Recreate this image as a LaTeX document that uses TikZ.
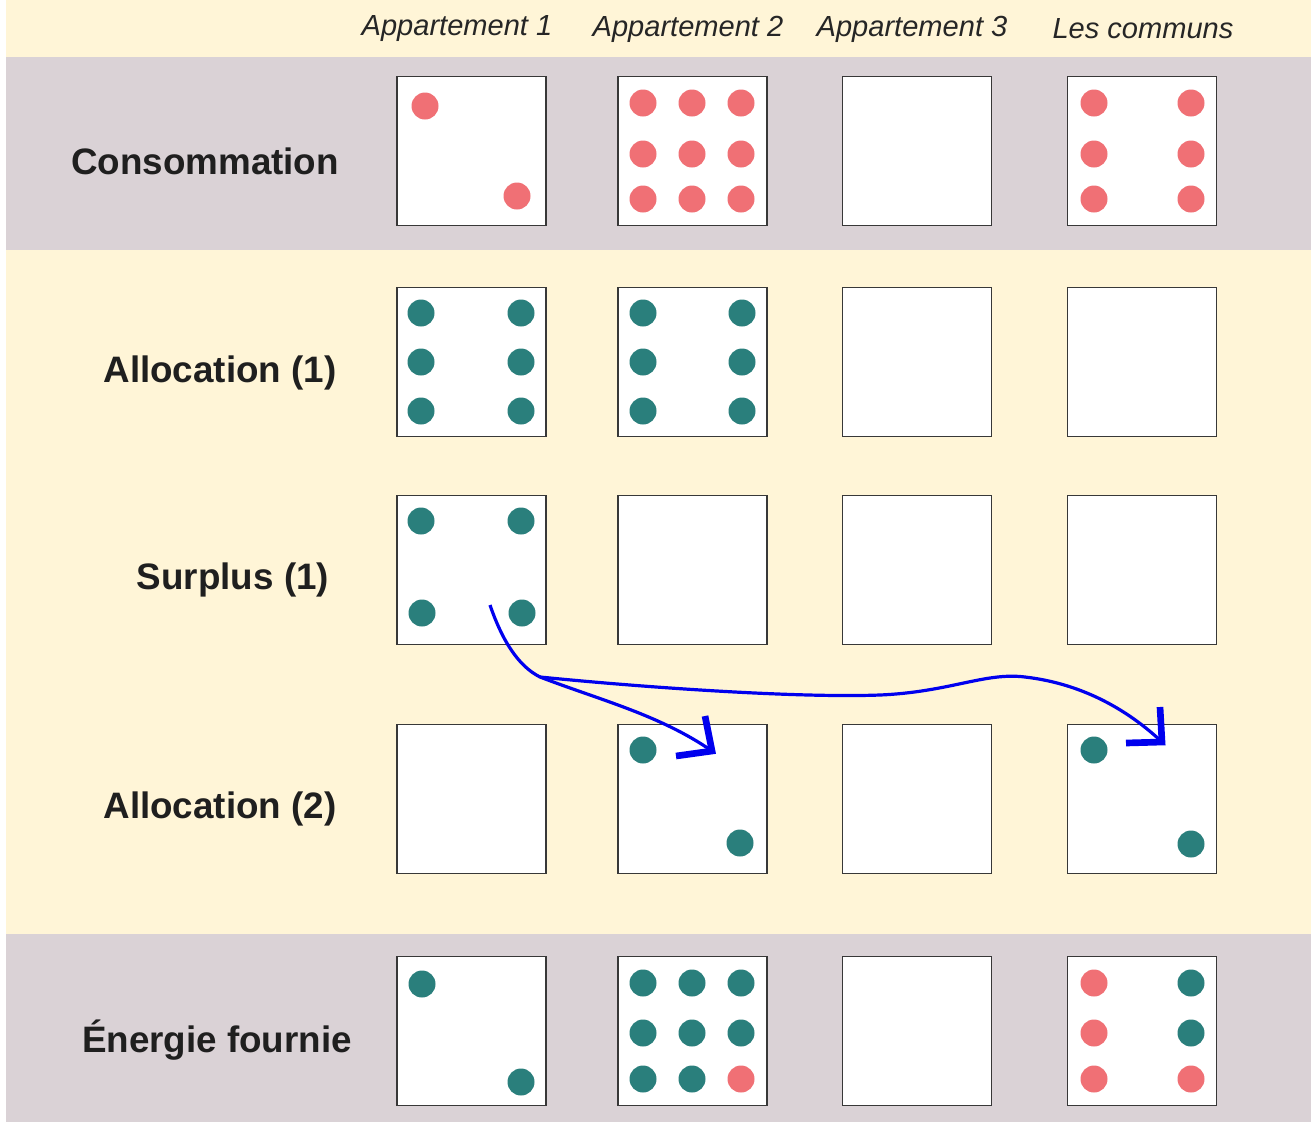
\documentclass[tikz,border=0pt]{standalone}
\usepackage{fontspec}
\setmainfont{Liberation Sans}
\begin{document}
\begin{tikzpicture}[x=0.75pt,y=-0.75pt,
  cell/.style={draw=black!78,line width=1.2pt,fill=white,minimum size=112pt,inner sep=0pt},
  rowlab/.style={font=\fontsize{27.6}{30}\selectfont\bfseries,text=black!88,inner sep=0pt},
  collab/.style={font=\fontsize{21.8}{24}\selectfont\itshape,text=black!85,inner sep=0pt},
  flow/.style={draw=flowblue,line width=2.4pt},
  head/.style={draw=flowblue,line width=5pt,line join=miter}]
\definecolor{bgyellow}{HTML}{FFF5D7}
\definecolor{bggray}{HTML}{DAD2D6}
\definecolor{dotred}{HTML}{F07075}
\definecolor{dotteal}{HTML}{2A7F7C}
\definecolor{flowblue}{HTML}{0000EE}
\useasboundingbox (0,0) rectangle (1311,1122);
\fill[white] (0,0) rectangle (1311,1122);
\fill[bgyellow] (6,0) rectangle (1311,1122);
\fill[bggray] (6,57) rectangle (1311,250);
\fill[bggray] (6,934) rectangle (1311,1122);
% column headers
\node[collab] (h1) at (457,29) {Appartement 1};
\node[collab] (h2) at (688,29) {Appartement 2};
\node[collab] (h3) at (912,29) {Appartement 3};
\node[collab] (h4) at (1143,29) {Les communs};
% row labels
\node[rowlab] (r1) at (205,161) {Consommation};
\node[rowlab] (r2) at (220,373) {Allocation (1)};
\node[rowlab] (r3) at (233,580) {Surplus (1)};
\node[rowlab] (r4) at (220,809) {Allocation (2)};
\node[rowlab] (r5) at (217,1040) {Énergie fournie};
% boxes
\foreach \c/\x in {1/471.5,2/692.5,3/917,4/1142}{
  \foreach \r/\y in {1/151,2/362,3/570,4/799,5/1031}{
    \node[cell] (b\r\c) at (\x,\y) {};
  }
}
% dots
\tikzset{rd/.style={fill=dotred},td/.style={fill=dotteal}}
\def\R{13.5}
% row 1
\fill[rd] (425,106) circle[radius=\R];
\fill[rd] (517,196) circle[radius=\R];
\foreach \x in {643,692,741}{\foreach \y in {103,154,199}{\fill[rd] (\x,\y) circle[radius=\R];}}
\foreach \x in {1094,1191}{\foreach \y in {103,154,199}{\fill[rd] (\x,\y) circle[radius=\R];}}
% row 2
\foreach \x in {421,521}{\foreach \y in {313,362,411}{\fill[td] (\x,\y) circle[radius=\R];}}
\foreach \x in {643,742}{\foreach \y in {313,362,411}{\fill[td] (\x,\y) circle[radius=\R];}}
% row 3
\fill[td] (421,521) circle[radius=\R];
\fill[td] (521,521) circle[radius=\R];
\fill[td] (422,613) circle[radius=\R];
\fill[td] (522,613) circle[radius=\R];
% row 4
\fill[td] (643,750) circle[radius=\R];
\fill[td] (740,843) circle[radius=\R];
\fill[td] (1094,750) circle[radius=\R];
\fill[td] (1191,844) circle[radius=\R];
% row 5
\fill[td] (422,984) circle[radius=\R];
\fill[td] (521,1082) circle[radius=\R];
\foreach \x in {643,692,741}{\foreach \y in {983,1033}{\fill[td] (\x,\y) circle[radius=\R];}}
\fill[td] (643,1079) circle[radius=\R];
\fill[td] (692,1079) circle[radius=\R];
\fill[rd] (741,1079) circle[radius=\R];
\foreach \y in {983,1033,1079}{\fill[rd] (1094,\y) circle[radius=\R];}
\foreach \y in {983,1033}{\fill[td] (1191,\y) circle[radius=\R];}
\fill[rd] (1191,1079) circle[radius=\R];
% arrows
\coordinate (s) at (490,605);
\coordinate (j) at (540,677);
\coordinate (t1) at (712,751);
\coordinate (t2) at (1162,742);
\draw[flow] (s) .. controls (502,640) and (518,666) .. (j)
  .. controls (600,700) and (660,715) .. (t1);
\draw[flow] (j) .. controls (650,688) and (800,698) .. (880,695)
  .. controls (950,692) and (985,672) .. (1025,677)
  .. controls (1085,684) and (1130,712) .. (t2);
\draw[head] (676,756) -- (t1) -- (705,716);
\draw[head] (1126,743) -- (t2) -- (1160,707);
\end{tikzpicture}
\end{document}
